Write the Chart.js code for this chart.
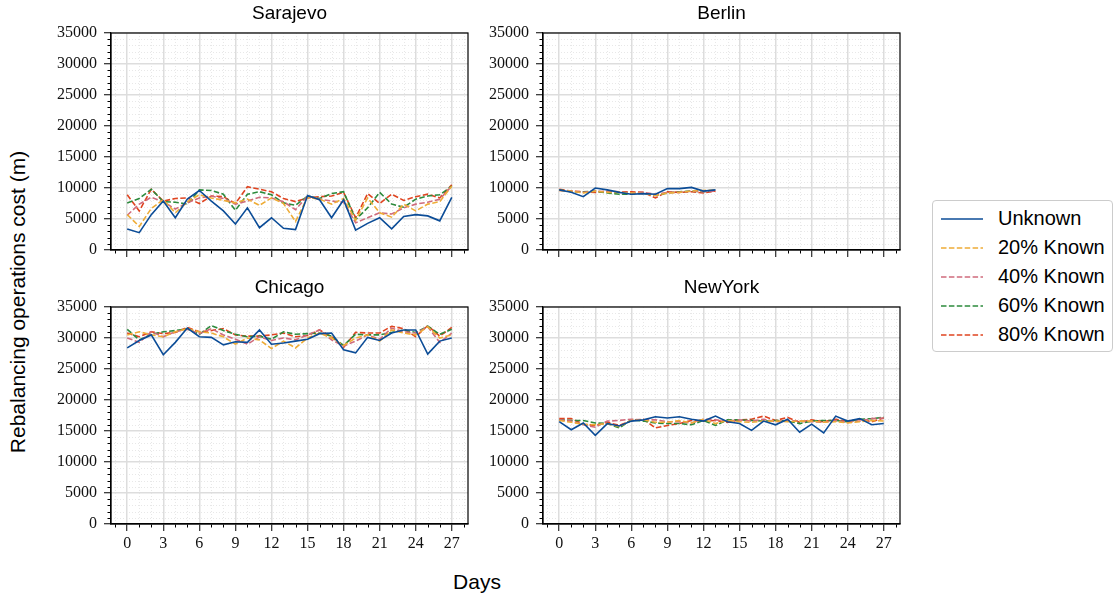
<!DOCTYPE html>
<html lang="en">
<head>
  <meta charset="UTF-8" />
  <title>Rebalancing operations cost</title>
  <script src="https://cdn.jsdelivr.net/npm/chart.js"></script>
  <style>
    body {
      margin: 0;
      width: 1117px;
      height: 599px;
      background: #ffffff;
      position: relative;
      overflow: hidden;
      font-family: "Liberation Sans", Arial, sans-serif;
    }

    canvas {
      position: absolute;
    }

    #ylabel {
      position: absolute;
      left: 18px;
      top: 302px;
      transform: translate(-50%, -50%) rotate(-90deg);
      font-size: 21px;
      white-space: nowrap;
      color: #000;
    }

    #xlabel {
      position: absolute;
      left: 477px;
      top: 582px;
      transform: translate(-50%, -50%);
      font-size: 21px;
      color: #000;
    }

    .legend {
      position: absolute;
      left: 932px;
      top: 200px;
      width: 181px;
      height: 152px;
      border: 1px solid #cccccc;
      border-radius: 4px;
      box-sizing: border-box;
    }

    .legend-row {
      position: absolute;
      left: 0;
      height: 29px;
      display: flex;
      align-items: center;
      font-size: 20px;
      color: #000;
    }

    .legend-row svg {
      margin-left: 8px;
      margin-right: 15px;
    }
  </style>
</head>

<body>

<canvas id="sarajevoChart" width="431" height="260" style="left:40px; top:1px; width:431px; height:260px;"></canvas>
<canvas id="berlinChart" width="431" height="260" style="left:472px; top:1px; width:431px; height:260px;"></canvas>
<canvas id="chicagoChart" width="431" height="281" style="left:40px; top:275px; width:431px; height:281px;"></canvas>
<canvas id="newyorkChart" width="431" height="281" style="left:472px; top:275px; width:431px; height:281px;"></canvas>

<div id="ylabel">Rebalancing operations cost (m)</div>
<div id="xlabel">Days</div>

<div class="legend" id="legend"></div>

<script>
  // ---- data ----
  const days = [0, 1, 2, 3, 4, 5, 6, 7, 8, 9, 10, 11, 12, 13, 14, 15, 16, 17, 18, 19, 20, 21, 22, 23, 24, 25, 26, 27];
  const seriesNames = ['Unknown', '20% Known', '40% Known', '60% Known', '80% Known'];
  const seriesColors = ['#0b4c97', '#eeac37', '#cf6b7c', '#2c8a3c', '#df4420'];
  const yTicks = [0, 5000, 10000, 15000, 20000, 25000, 30000, 35000];
  const xTicks = [0, 3, 6, 9, 12, 15, 18, 21, 24, 27];

  const sarajevoUnknown = [3400, 2800, 5700, 7900, 5200, 8200, 9600, 7900, 6300, 4200, 6800, 3600, 5200, 3500, 3300, 8800, 8100, 5200, 8100, 3200, 4300, 5200, 3400, 5400, 5700, 5500, 4700, 8500];
  const sarajevo20 = [5700, 3800, 6700, 8100, 6000, 7800, 8900, 8400, 8000, 7600, 8200, 7200, 8400, 7500, 4600, 8500, 8200, 7400, 8300, 4800, 8400, 6000, 5300, 7400, 6300, 7400, 7800, 10300];
  const sarajevo40 = [5600, 7400, 8500, 7800, 6600, 7600, 8400, 8700, 8300, 7400, 7900, 8500, 8400, 7800, 6500, 8700, 8200, 7900, 7700, 4400, 5200, 6000, 5800, 6800, 7400, 7700, 8200, 10300];
  const sarajevo60 = [7600, 8300, 9800, 7800, 7700, 7400, 9700, 9600, 9000, 6400, 9000, 9400, 8900, 7600, 7200, 8700, 8300, 9100, 9400, 4900, 6800, 9300, 7400, 6900, 8200, 8700, 8900, 10300];
  const sarajevo80 = [8900, 6300, 9800, 7900, 8300, 8400, 7500, 8700, 8600, 7500, 10200, 9800, 9400, 8300, 7800, 8400, 8600, 8700, 9300, 5200, 9100, 7500, 9000, 8000, 8600, 9000, 8400, 10500];

  const berlinUnknown = [9700, 9300, 8600, 10000, 9700, 9300, 9000, 9100, 9000, 9900, 9900, 10100, 9500, 9700];
  const berlin20 = [9600, 9500, 9200, 9500, 9300, 9300, 9200, 9100, 8800, 9200, 9300, 9500, 9600, 9700];
  const berlin40 = [9600, 9500, 9300, 9500, 9400, 9400, 9200, 9300, 9000, 9300, 9300, 9500, 9400, 9500];
  const berlin60 = [9700, 9400, 9400, 9500, 9200, 9000, 9000, 9200, 8800, 9200, 9400, 9500, 9400, 9600];
  const berlin80 = [9800, 9500, 9400, 9300, 9500, 9400, 9400, 9300, 8400, 9400, 9300, 9400, 9200, 9500];

  const chicagoUnknown = [28400, 29600, 30500, 27300, 29300, 31600, 30200, 30100, 28900, 29400, 29300, 31300, 29000, 29200, 29500, 29800, 30700, 30800, 28100, 27600, 30100, 29600, 30800, 31300, 31300, 27400, 29500, 30000];
  const chicago20 = [30500, 31000, 30500, 30200, 31000, 31500, 31000, 30800, 30200, 29000, 30000, 29700, 28300, 29500, 28400, 30000, 30800, 30000, 28800, 30000, 30500, 29500, 31300, 30800, 30500, 31800, 30000, 30500];
  const chicago40 = [30000, 29300, 31000, 30200, 31000, 31400, 30700, 31500, 30500, 29800, 29000, 30200, 29600, 30000, 29700, 30500, 31300, 29700, 28700, 29500, 30500, 29800, 31600, 31000, 30800, 31800, 29300, 30800];
  const chicago60 = [31400, 29700, 30600, 31000, 31200, 31500, 30600, 32000, 31200, 30600, 30200, 30300, 29800, 31000, 30600, 30700, 30800, 30300, 28800, 30600, 30500, 30500, 30900, 31300, 30900, 31900, 30600, 31400];
  const chicago80 = [30800, 30200, 31000, 30700, 30900, 31700, 31000, 31200, 31500, 30500, 30300, 30300, 30500, 30800, 30200, 30400, 31300, 30200, 28500, 30900, 30800, 30800, 31900, 31500, 30200, 32000, 30300, 31700];

  const newyorkUnknown = [16500, 15200, 16300, 14300, 16200, 15800, 16600, 16800, 17300, 17100, 17300, 16900, 16600, 17400, 16500, 16200, 15100, 16600, 16000, 16900, 14800, 16100, 14700, 17400, 16600, 17000, 16000, 16200];
  const newyork20 = [16700, 16400, 16100, 16000, 16200, 15700, 16700, 16800, 16400, 16400, 16700, 16300, 16900, 16200, 16700, 16500, 16400, 16600, 16600, 16500, 16600, 16600, 16400, 16500, 16300, 16500, 16700, 16600];
  const newyork40 = [16800, 16600, 16000, 15600, 16600, 16700, 16900, 16800, 16800, 16500, 16500, 16300, 16900, 16800, 16600, 16800, 16600, 16900, 16500, 16700, 16600, 16500, 16400, 16700, 16400, 16600, 17000, 17100];
  const newyork60 = [16800, 16700, 16700, 16300, 16200, 15500, 16800, 16600, 16300, 16200, 16200, 16000, 16700, 15900, 16800, 16800, 16700, 16600, 16700, 16600, 16200, 16600, 16700, 16700, 16500, 16900, 17000, 17200];
  const newyork80 = [17000, 17000, 16100, 15900, 16400, 15900, 16700, 16900, 15500, 15900, 16200, 16700, 16600, 16700, 16400, 16800, 16900, 17400, 16700, 17200, 16400, 16800, 16500, 16900, 16500, 16900, 16500, 17100];

  const tickFont = { family: '"Liberation Serif", "DejaVu Serif", serif', size: 16 };

  // minor grid, minor ticks, frame and title
  const subplotPlugin = {
    id: 'subplot',
    beforeDraw(chart) {
      const { ctx, chartArea: a, scales: { x, y } } = chart;
      ctx.save();
      ctx.strokeStyle = '#e2e2e2';
      ctx.lineWidth = 0.8;
      ctx.setLineDash([1, 2]);
      for (let d = -1; d <= 28; d++) {
        if (d % 3 === 0) continue;
        const px = Math.round(x.getPixelForValue(d)) + 0.5;
        ctx.beginPath(); ctx.moveTo(px, a.top); ctx.lineTo(px, a.bottom); ctx.stroke();
      }
      for (let v = 1000; v < 35000; v += 1000) {
        if (v % 5000 === 0) continue;
        const py = Math.round(y.getPixelForValue(v)) + 0.5;
        ctx.beginPath(); ctx.moveTo(a.left, py); ctx.lineTo(a.right, py); ctx.stroke();
      }
      ctx.setLineDash([]);
      ctx.strokeStyle = '#000';
      ctx.lineWidth = 1;
      for (let d = -1; d <= 28; d++) {
        if (d % 3 === 0) continue;
        const px = Math.round(x.getPixelForValue(d)) + 0.5;
        ctx.beginPath(); ctx.moveTo(px, a.bottom); ctx.lineTo(px, a.bottom + 3.5); ctx.stroke();
      }
      for (let v = 1000; v < 35000; v += 1000) {
        if (v % 5000 === 0) continue;
        const py = Math.round(y.getPixelForValue(v)) + 0.5;
        ctx.beginPath(); ctx.moveTo(a.left - 3.5, py); ctx.lineTo(a.left, py); ctx.stroke();
      }
      ctx.restore();
    },
    afterDraw(chart, args, opts) {
      const { ctx, chartArea: a } = chart;
      ctx.save();
      ctx.strokeStyle = '#000';
      ctx.lineWidth = 1.2;
      ctx.strokeRect(a.left, a.top, a.right - a.left, a.bottom - a.top);
      ctx.fillStyle = '#000';
      ctx.font = '19px "Liberation Sans", Arial, sans-serif';
      ctx.textAlign = 'center';
      ctx.textBaseline = 'middle';
      ctx.fillText(opts.title, (a.left + a.right) / 2, 12.5);
      ctx.restore();
    }
  };

  function makeChart(id, title, seriesList, showXLabels) {
    const ctx = document.getElementById(id).getContext('2d');
    const datasets = seriesList.map((vals, k) => ({
      label: seriesNames[k],
      data: vals.map((v, i) => ({ x: days[i], y: v })),
      borderColor: seriesColors[k],
      backgroundColor: seriesColors[k],
      borderWidth: 1.6,
      borderDash: k === 0 ? [] : [5.5, 2.4],
      pointRadius: 0,
      tension: 0,
      fill: false
    }));

    return new Chart(ctx, {
      type: 'line',
      data: { datasets },
      plugins: [subplotPlugin],
      options: {
        responsive: false,
        animation: false,
        devicePixelRatio: 1,
        layout: { padding: { top: 32, left: 0, right: 3, bottom: 0 } },
        plugins: {
          legend: { display: false },
          tooltip: { enabled: false },
          subplot: { title: title }
        },
        scales: {
          x: {
            type: 'linear',
            min: -1.35,
            max: 28.35,
            afterBuildTicks: s => { s.ticks = xTicks.map(v => ({ value: v })); },
            afterFit: s => {
              s.height = showXLabels ? 32 : 11;
              s.paddingLeft = 0;
              s.paddingRight = 0;
            },
            ticks: {
              display: showXLabels,
              autoSkip: false,
              maxRotation: 0,
              padding: 3,
              color: '#111',
              font: tickFont
            },
            grid: {
              color: '#dddddd',
              lineWidth: 1.5,
              drawTicks: true,
              tickLength: 7,
              tickColor: '#000',
              tickWidth: 1
            },
            border: { display: true, color: '#000', width: 1.2 }
          },
          y: {
            min: 0,
            max: 35000,
            afterBuildTicks: s => { s.ticks = yTicks.map(v => ({ value: v })); },
            afterFit: s => {
              s.width = 71;
              s.paddingTop = 0;
              s.paddingBottom = 0;
            },
            ticks: {
              padding: 7,
              color: '#111',
              font: tickFont,
              callback: v => String(v)
            },
            grid: {
              color: '#dddddd',
              lineWidth: 1.5,
              drawTicks: true,
              tickLength: 7,
              tickColor: '#000',
              tickWidth: 1
            },
            border: { display: true, color: '#000', width: 1.2 }
          }
        }
      }
    });
  }

  makeChart('sarajevoChart', 'Sarajevo', [sarajevoUnknown, sarajevo20, sarajevo40, sarajevo60, sarajevo80], false);
  makeChart('berlinChart', 'Berlin', [berlinUnknown, berlin20, berlin40, berlin60, berlin80], false);
  makeChart('chicagoChart', 'Chicago', [chicagoUnknown, chicago20, chicago40, chicago60, chicago80], true);
  makeChart('newyorkChart', 'NewYork', [newyorkUnknown, newyork20, newyork40, newyork60, newyork80], true);

  // legend
  const legend = document.getElementById('legend');
  seriesNames.forEach((name, k) => {
    const row = document.createElement('div');
    row.className = 'legend-row';
    row.style.top = (3 + k * 29) + 'px';
    const dash = k === 0 ? '' : 'stroke-dasharray="5.5 2.4"';
    row.innerHTML =
      '<svg width="42" height="4"><line x1="0" y1="2" x2="42" y2="2" stroke="' + seriesColors[k] +
      '" stroke-width="1.5" ' + dash + '/></svg><span>' + name + '</span>';
    legend.appendChild(row);
  });
</script>

</body>
</html>
